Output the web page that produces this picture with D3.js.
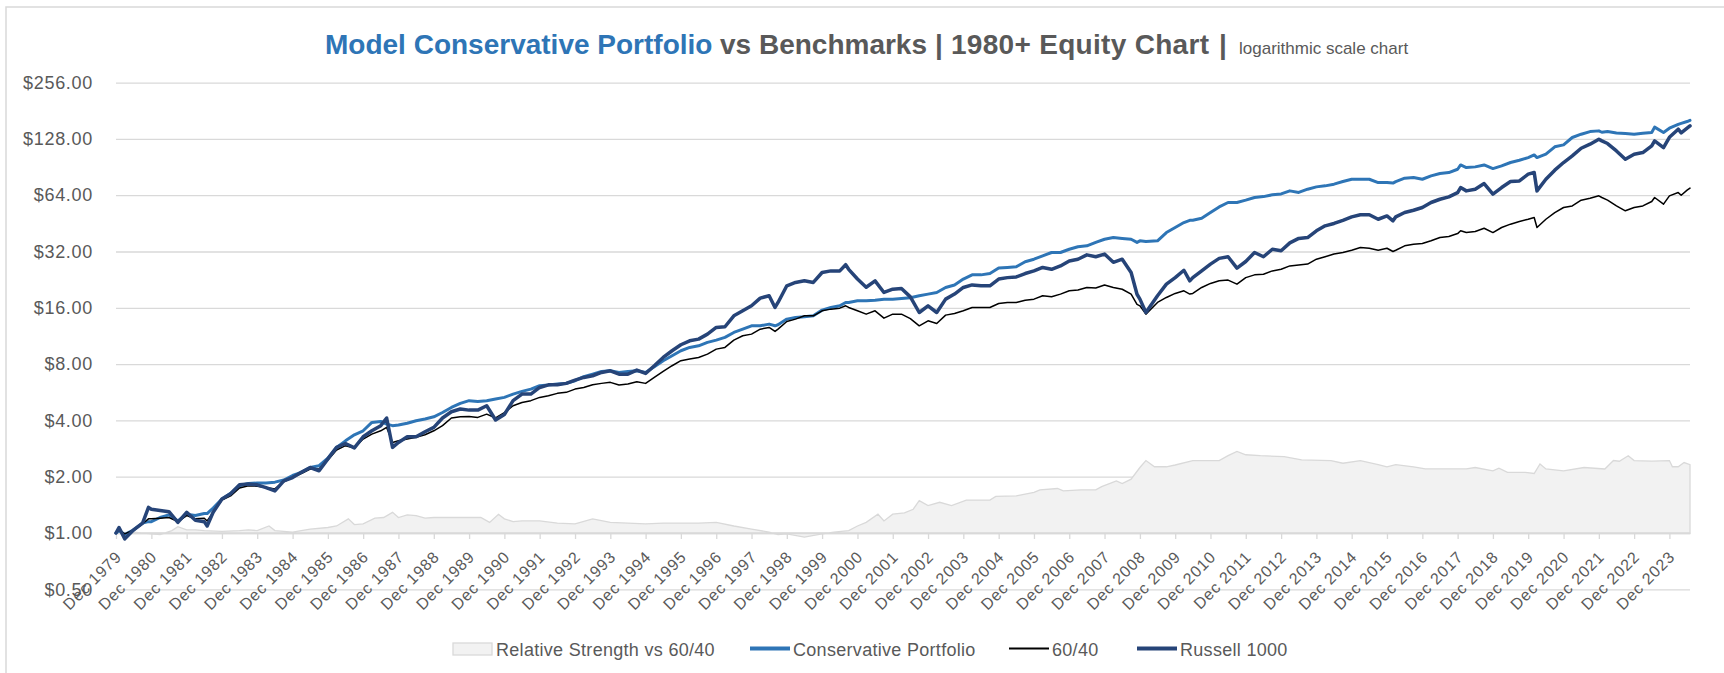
<!DOCTYPE html>
<html>
<head>
<meta charset="utf-8">
<title>Model Conservative Portfolio vs Benchmarks</title>
<script src="https://cdn.jsdelivr.net/npm/d3@7"></script>
<style>
  body { margin: 0; background: #fff; }
  svg { display: block; font-family: 'Liberation Sans', Arial, sans-serif; }
</style>
</head>
<body>
<div id="chart-container"></div>
<script>
// month-end sample dates shared by the three line series
const dates = [
  '1979-12', '1980-01', '1980-03', '1980-06', '1980-09', '1980-11', '1980-12',
  '1981-03', '1981-06', '1981-09', '1981-12',
  '1982-03', '1982-06', '1982-07', '1982-09', '1982-12',
  '1983-03', '1983-06', '1983-09', '1983-12',
  '1984-03', '1984-06', '1984-09', '1984-12',
  '1985-03', '1985-06', '1985-09', '1985-12',
  '1986-03', '1986-06', '1986-09', '1986-12',
  '1987-03', '1987-06', '1987-08', '1987-10', '1987-12',
  '1988-03', '1988-06', '1988-09', '1988-12',
  '1989-03', '1989-06', '1989-09', '1989-12',
  '1990-03', '1990-06', '1990-09', '1990-12',
  '1991-03', '1991-06', '1991-09', '1991-12',
  '1992-03', '1992-06', '1992-09', '1992-12',
  '1993-03', '1993-06', '1993-09', '1993-12',
  '1994-03', '1994-06', '1994-09', '1994-12',
  '1995-03', '1995-06', '1995-09', '1995-12',
  '1996-03', '1996-06', '1996-09', '1996-12',
  '1997-03', '1997-06', '1997-09', '1997-12',
  '1998-03', '1998-06', '1998-08', '1998-09', '1998-12',
  '1999-03', '1999-06', '1999-09', '1999-12',
  '2000-03', '2000-06', '2000-08', '2000-09', '2000-12',
  '2001-03', '2001-06', '2001-09', '2001-12',
  '2002-03', '2002-06', '2002-09', '2002-12',
  '2003-03', '2003-06', '2003-09', '2003-12',
  '2004-03', '2004-06', '2004-09', '2004-12',
  '2005-03', '2005-06', '2005-09', '2005-12',
  '2006-03', '2006-06', '2006-09', '2006-12',
  '2007-03', '2007-06', '2007-09', '2007-12',
  '2008-03', '2008-06', '2008-09', '2008-11', '2008-12',
  '2009-02', '2009-06', '2009-09', '2009-12',
  '2010-03', '2010-05', '2010-06', '2010-09', '2010-12',
  '2011-03', '2011-06', '2011-09', '2011-12',
  '2012-03', '2012-06', '2012-09', '2012-12',
  '2013-03', '2013-06', '2013-09', '2013-12',
  '2014-03', '2014-06', '2014-09', '2014-12',
  '2015-03', '2015-06', '2015-09', '2015-12',
  '2016-02', '2016-03', '2016-06', '2016-09', '2016-12',
  '2017-03', '2017-06', '2017-09', '2017-12',
  '2018-01', '2018-03', '2018-06', '2018-09', '2018-12',
  '2019-03', '2019-06', '2019-09', '2019-12',
  '2020-02', '2020-03', '2020-06', '2020-09', '2020-12',
  '2021-03', '2021-06', '2021-09', '2021-12',
  '2022-01', '2022-03', '2022-06', '2022-09', '2022-12',
  '2023-03', '2023-06', '2023-07', '2023-10', '2023-12',
  '2024-03', '2024-04', '2024-06', '2024-07'
];

const conservative = [
  1.00, 1.03, 0.98, 1.04, 1.13, 1.15, 1.15,
  1.21, 1.25, 1.16, 1.26,
  1.24, 1.27, 1.27, 1.36, 1.52,
  1.63, 1.79, 1.84, 1.85,
  1.85, 1.87, 1.92, 2.03,
  2.11, 2.24, 2.29, 2.51,
  2.87, 3.11, 3.35, 3.52,
  3.90, 3.95, 3.82, 3.75, 3.78,
  3.86, 3.98, 4.07, 4.18,
  4.41, 4.69, 4.93, 5.10,
  5.05, 5.10, 5.20, 5.31,
  5.53, 5.72, 5.88, 6.13,
  6.18, 6.26, 6.31, 6.52,
  6.85, 7.07, 7.31, 7.37,
  7.22, 7.31, 7.37, 7.22,
  7.74, 8.34, 8.87, 9.43,
  9.82, 10.02, 10.45, 10.75,
  11.11, 11.81, 12.30, 12.82,
  12.82, 13.09, 12.82, 12.98, 13.92,
  14.21, 14.32, 14.50, 15.55,
  16.07, 16.40, 17.09, 17.09, 17.44,
  17.44, 17.58, 17.80, 17.80,
  17.95, 18.10, 18.55, 18.94,
  19.32, 20.55, 21.2, 22.8,
  24.0, 24.0, 24.4, 26.1,
  26.3, 26.5, 28.2, 29.1,
  30.3, 31.6, 31.6, 32.9,
  33.9, 34.3, 35.8, 37.2,
  38.0, 37.6, 37.2, 35.8, 36.5,
  36.2, 36.5, 40.4, 43.0,
  45.7, 47.0, 47.0, 48.2, 51.7,
  55.4, 58.5, 58.5, 60.2,
  62.2, 62.9, 64.3, 65.0,
  67.5, 66.2, 68.9, 70.9,
  71.8, 73.3, 75.7, 77.9,
  77.9, 77.9, 74.8, 74.8,
  74.3, 75.7, 78.9, 79.5, 77.9,
  81.2, 83.6, 84.6, 88.1,
  92.9, 89.9, 90.7, 92.9, 88.8,
  91.8, 95.7, 98.4, 101.7,
  105.1, 101.7, 106.0, 116.1, 118.9,
  130.2, 135.6, 140.1, 141.3,
  138.9, 140.1, 137.8, 136.7, 135.6,
  137.3, 138.4, 148.0, 138.4, 146.0,
  153.0, 155.0, 158.5, 161.0
];

const sixtyForty = [
  1.00, 1.04, 0.99, 1.04, 1.12, 1.19, 1.19,
  1.20, 1.21, 1.15, 1.24,
  1.19, 1.20, 1.16, 1.29, 1.50,
  1.58, 1.74, 1.79, 1.78,
  1.75, 1.72, 1.88, 1.98,
  2.08, 2.20, 2.20, 2.46,
  2.78, 2.93, 2.85, 3.18,
  3.38, 3.52, 3.67, 3.05, 3.11,
  3.18, 3.25, 3.35, 3.52,
  3.75, 4.12, 4.18, 4.20,
  4.15, 4.32, 4.12, 4.40,
  4.79, 4.99, 5.10, 5.31,
  5.42, 5.58, 5.65, 5.88,
  6.00, 6.20, 6.31, 6.39,
  6.18, 6.26, 6.44, 6.31,
  6.79, 7.31, 7.84, 8.34,
  8.51, 8.68, 9.05, 9.62,
  9.82, 10.75, 11.34, 11.57,
  12.30, 12.56, 11.96, 12.30, 13.52,
  13.92, 14.50, 14.50, 15.42,
  15.74, 15.93, 16.40, 16.07, 15.42,
  14.80, 15.42, 14.09, 14.80,
  14.80, 14.00, 12.82, 13.63,
  13.20, 14.62, 14.92, 15.42,
  16.07, 16.07, 16.07, 16.88,
  17.09, 17.09, 17.58, 17.80,
  18.55, 18.32, 18.94, 19.72,
  19.90, 20.55, 20.40, 21.20,
  20.55, 20.10, 18.94, 16.70, 16.40,
  14.80, 17.09, 18.17, 19.10,
  19.72, 18.94, 19.10, 20.55, 21.60,
  22.30, 22.50, 21.40, 23.20,
  24.00, 24.20, 25.20, 25.70,
  26.80, 27.10, 27.40, 29.10,
  30.00, 31.00, 31.60, 32.50,
  33.60, 33.30, 32.50, 33.30,
  32.00, 32.50, 34.30, 35.00, 35.30,
  36.50, 38.00, 38.50, 39.90,
  41.30, 40.40, 40.90, 42.60, 40.40,
  43.00, 44.80, 46.30, 47.60,
  48.60, 43.00, 47.60, 51.70, 55.00,
  56.10, 60.20, 61.70, 63.50,
  62.20, 60.20, 56.10, 52.80, 55.00,
  56.10, 59.20, 62.20, 57.30, 63.50,
  66.10, 64.00, 68.10, 69.80
];

const russell1000 = [
  1.00, 1.07, 0.93, 1.04, 1.13, 1.37, 1.34,
  1.32, 1.30, 1.14, 1.29,
  1.17, 1.15, 1.09, 1.29, 1.52,
  1.62, 1.81, 1.83, 1.81,
  1.75, 1.68, 1.90, 1.98,
  2.11, 2.24, 2.15, 2.49,
  2.87, 3.01, 2.85, 3.27,
  3.52, 3.75, 4.12, 2.87, 3.05,
  3.27, 3.27, 3.48, 3.67,
  4.12, 4.45, 4.60, 4.54,
  4.54, 4.79, 4.02, 4.30,
  5.10, 5.53, 5.53, 6.00,
  6.20, 6.20, 6.31, 6.57,
  6.79, 6.93, 7.22, 7.37,
  7.07, 7.07, 7.43, 7.13,
  7.84, 8.68, 9.43, 10.15,
  10.66, 10.88, 11.57, 12.56,
  12.67, 14.50, 15.42, 16.40,
  18.03, 18.55, 16.07, 17.09, 20.98,
  21.86, 22.31, 21.86, 24.70,
  25.20, 25.20, 27.20, 25.70, 22.80,
  20.60, 22.30, 19.32, 20.13,
  20.30, 18.30, 15.10, 16.40,
  15.10, 17.80, 18.94, 20.55,
  21.20, 20.98, 20.98, 22.80,
  23.20, 23.40, 24.40, 25.20,
  26.30, 25.70, 26.80, 28.50,
  29.10, 30.70, 30.00, 31.00,
  28.00, 29.10, 24.70, 18.90, 17.80,
  15.10, 18.55, 21.40, 23.20,
  25.40, 22.30, 23.20, 25.20, 27.40,
  29.40, 30.00, 26.10, 28.30,
  31.60, 30.00, 32.90, 32.30,
  35.60, 37.60, 38.00, 41.30,
  43.90, 45.20, 47.00, 49.00,
  50.30, 50.30, 47.60, 49.60,
  46.70, 49.00, 51.70, 53.20, 55.00,
  58.50, 60.90, 62.70, 66.10,
  70.30, 67.50, 68.90, 73.90, 64.80,
  70.30, 75.70, 76.30, 82.90,
  84.60, 67.50, 77.90, 87.10, 95.70,
  103.8, 114.1, 119.9, 127.5,
  124.9, 120.9, 110.4, 99.7, 106.0,
  108.2, 117.5, 124.9, 115.0, 130.5,
  144.2, 137.8, 146.0, 150.2
];

// relative strength vs 60/40 (grey area), its own sample dates
const rsDates = [
  '1979-12', '1980-06', '1980-12', '1981-03', '1981-07', '1981-09', '1981-12',
  '1982-03', '1982-06', '1982-12', '1983-06', '1983-09', '1983-12',
  '1984-04', '1984-06', '1984-12', '1985-03', '1985-06', '1985-12',
  '1986-03', '1986-07', '1986-09', '1986-12', '1987-04', '1987-07', '1987-10', '1987-12',
  '1988-03', '1988-06', '1988-09', '1988-12', '1989-06', '1989-12',
  '1990-04', '1990-07', '1990-10', '1990-12', '1991-03', '1991-06', '1991-12',
  '1992-06', '1992-12', '1993-06', '1993-12', '1994-06', '1994-12',
  '1995-06', '1995-12', '1996-06', '1996-12', '1997-06', '1997-12',
  '1998-06', '1998-09', '1998-12', '1999-06', '1999-12',
  '2000-04', '2000-09', '2000-12', '2001-03', '2001-07', '2001-09', '2001-12',
  '2002-04', '2002-07', '2002-09', '2002-12', '2003-04', '2003-08',
  '2004-01', '2004-09', '2004-11', '2005-06', '2005-12',
  '2006-02', '2006-08', '2006-10', '2007-04', '2007-09', '2007-11',
  '2008-04', '2008-06', '2008-09', '2008-12', '2009-02', '2009-05', '2009-09', '2009-12',
  '2010-06', '2011-03', '2011-06', '2011-09', '2011-12', '2012-05',
  '2013-01', '2013-07', '2014-05', '2014-09', '2015-03', '2015-09', '2015-12',
  '2016-03', '2016-09', '2017-01', '2018-03', '2018-06', '2018-12',
  '2019-02', '2019-05', '2019-11', '2020-02', '2020-04', '2020-06', '2020-12',
  '2021-07', '2022-02', '2022-05', '2022-07', '2022-10', '2022-12',
  '2023-06', '2023-12', '2024-01', '2024-03', '2024-05', '2024-07'
];

const relativeStrength = [
  1.00, 1.01, 0.99, 0.98, 1.03, 1.08, 1.04,
  1.04, 1.03, 1.02, 1.03, 1.04, 1.03,
  1.09, 1.03, 1.01, 1.03, 1.05, 1.07,
  1.09, 1.19, 1.11, 1.12, 1.20, 1.21, 1.29, 1.21,
  1.25, 1.24, 1.20, 1.21, 1.21, 1.21,
  1.21, 1.14, 1.26, 1.19, 1.15, 1.16, 1.16,
  1.13, 1.12, 1.19, 1.14, 1.13, 1.12,
  1.13, 1.13, 1.13, 1.14, 1.09, 1.05,
  1.01, 0.98, 0.99, 0.95, 0.99,
  1.01, 1.03, 1.09, 1.14, 1.26, 1.16, 1.26,
  1.28, 1.34, 1.49, 1.40, 1.46, 1.40,
  1.50, 1.50, 1.57, 1.58, 1.65,
  1.70, 1.73, 1.68, 1.70, 1.70, 1.77,
  1.90, 1.84, 1.94, 2.24, 2.44, 2.26, 2.26, 2.31,
  2.44, 2.44, 2.59, 2.73, 2.62, 2.59,
  2.56, 2.46, 2.44, 2.36, 2.44, 2.32, 2.26,
  2.32, 2.26, 2.20, 2.20, 2.24, 2.15,
  2.22, 2.11, 2.11, 2.08, 2.34, 2.20, 2.15,
  2.24, 2.20, 2.44, 2.42, 2.59, 2.44,
  2.42, 2.44, 2.26, 2.26, 2.38, 2.32
];

const yTickValues = [0.5, 1, 2, 4, 8, 16, 32, 64, 128, 256];
const tickYears = d3.range(1979, 2024);

const seriesNames = ['Conservative Portfolio', '60/40', 'Russell 1000'];
const seriesColors = ['#2e75b6', '#000000', '#264478'];
const seriesWidths = [3, 1.5, 3.5];

const w = 1724;
const h = 673;
const left = 116;
const right = 1690;
const textColor = '#595959';
const gridColor = '#d9d9d9';

const parseMonth = d3.timeParse('%Y-%m');

const svg = d3.select('#chart-container')
  .append('svg')
  .attr('width', w)
  .attr('height', h);

// chart frame (only its left and top edges fall inside the picture)
svg.append('rect')
  .attr('x', 6)
  .attr('y', 7)
  .attr('width', w)
  .attr('height', h)
  .attr('fill', 'none')
  .attr('stroke', gridColor)
  .attr('stroke-width', 1.5);

const xScale = d3.scaleTime()
  .domain([parseMonth('1979-12'), parseMonth('2024-07')])
  .range([left, right]);
const yScale = d3.scaleLog()
  .base(2)
  .domain([0.5, 256])
  .range([589.3, 82.6]);

// title
const title = svg.append('text')
  .attr('y', 54)
  .attr('font-weight', 'bold')
  .attr('font-size', 28);
title.append('tspan')
  .attr('x', 325)
  .attr('fill', '#2e75b6')
  .text('Model Conservative Portfolio');
title.append('tspan')
  .attr('x', 720)
  .attr('fill', textColor)
  .text('vs Benchmarks');
title.append('tspan')
  .attr('x', 935)
  .attr('fill', textColor)
  .text('|');
title.append('tspan')
  .attr('x', 951)
  .attr('fill', textColor)
  .attr('letter-spacing', 0.3)
  .text('1980+ Equity Chart');
title.append('tspan')
  .attr('x', 1219)
  .attr('fill', textColor)
  .text('|');
title.append('tspan')
  .attr('x', 1239)
  .attr('fill', textColor)
  .attr('font-weight', 'normal')
  .attr('font-size', 17)
  .text('logarithmic scale chart');

// y axis with gridlines
const yAxis = d3.axisLeft(yScale)
  .tickValues(yTickValues)
  .tickFormat(d => '$' + d3.format('.2f')(d))
  .tickSize(-(right - left))
  .tickPadding(23);
const yAxisG = svg.append('g')
  .attr('transform', 'translate(' + left + ', 0)')
  .call(yAxis);
yAxisG.select('.domain').remove();
yAxisG.selectAll('line')
  .attr('stroke', gridColor)
  .attr('stroke-width', 1.3);
yAxisG.selectAll('text')
  .attr('fill', textColor)
  .attr('font-size', 18)
  .attr('letter-spacing', 0.7)
  .attr('font-family', 'Liberation Sans, Arial, sans-serif');

// relative strength area, filled against the $1 line
const rsData = rsDates.map((d, i) => ({ date: parseMonth(d), value: relativeStrength[i] }));
const area = d3.area()
  .x(d => xScale(d.date))
  .y0(yScale(1))
  .y1(d => yScale(d.value));
svg.append('path')
  .datum(rsData)
  .attr('d', area)
  .attr('fill', '#f2f2f2')
  .attr('stroke', gridColor)
  .attr('stroke-width', 1.3);

// x axis sits on the $1 line
const xAxis = d3.axisBottom(xScale)
  .tickValues(tickYears.map(y => new Date(y, 11, 1)))
  .tickFormat(d3.timeFormat('Dec %Y'))
  .tickSize(6)
  .tickSizeOuter(0);
const xAxisG = svg.append('g')
  .attr('transform', 'translate(0, ' + yScale(1) + ')')
  .call(xAxis);
xAxisG.select('.domain')
  .attr('stroke', gridColor)
  .attr('stroke-width', 1.3);
xAxisG.selectAll('line')
  .attr('stroke', gridColor)
  .attr('stroke-width', 1.3);
xAxisG.selectAll('text')
  .attr('x', 0)
  .attr('y', 0)
  .attr('dy', null)
  .attr('text-anchor', 'end')
  .attr('transform', 'translate(6, 25) rotate(-45)')
  .attr('fill', textColor)
  .attr('font-size', 16)
  .attr('letter-spacing', 0.8)
  .attr('font-family', 'Liberation Sans, Arial, sans-serif');

// the three equity lines
const seriesValues = [conservative, sixtyForty, russell1000];
const line = d3.line()
  .x(d => xScale(d.date))
  .y(d => yScale(d.value));
seriesValues.forEach((values, k) => {
  const data = dates.map((d, i) => ({ date: parseMonth(d), value: values[i] }));
  svg.append('path')
    .datum(data)
    .attr('d', line)
    .attr('fill', 'none')
    .attr('stroke', seriesColors[k])
    .attr('stroke-width', seriesWidths[k])
    .attr('stroke-linejoin', 'round')
    .attr('stroke-linecap', 'round');
});

// legend
const legend = svg.append('g')
  .attr('id', 'legend')
  .attr('font-size', 18)
  .attr('letter-spacing', 0.3)
  .attr('fill', textColor);
legend.append('rect')
  .attr('x', 453)
  .attr('y', 643)
  .attr('width', 39)
  .attr('height', 12)
  .attr('fill', '#f2f2f2')
  .attr('stroke', gridColor)
  .attr('stroke-width', 1.3);
legend.append('text')
  .attr('x', 496)
  .attr('y', 656)
  .text('Relative Strength vs 60/40');

const legendX = [750, 1009, 1137];
seriesNames.forEach((name, k) => {
  legend.append('line')
    .attr('x1', legendX[k])
    .attr('x2', legendX[k] + 40)
    .attr('y1', 648.5)
    .attr('y2', 648.5)
    .attr('stroke', seriesColors[k])
    .attr('stroke-width', k === 1 ? 2 : 4);
  legend.append('text')
    .attr('x', legendX[k] + 43)
    .attr('y', 656)
    .text(name);
});
</script>
</body>
</html>
